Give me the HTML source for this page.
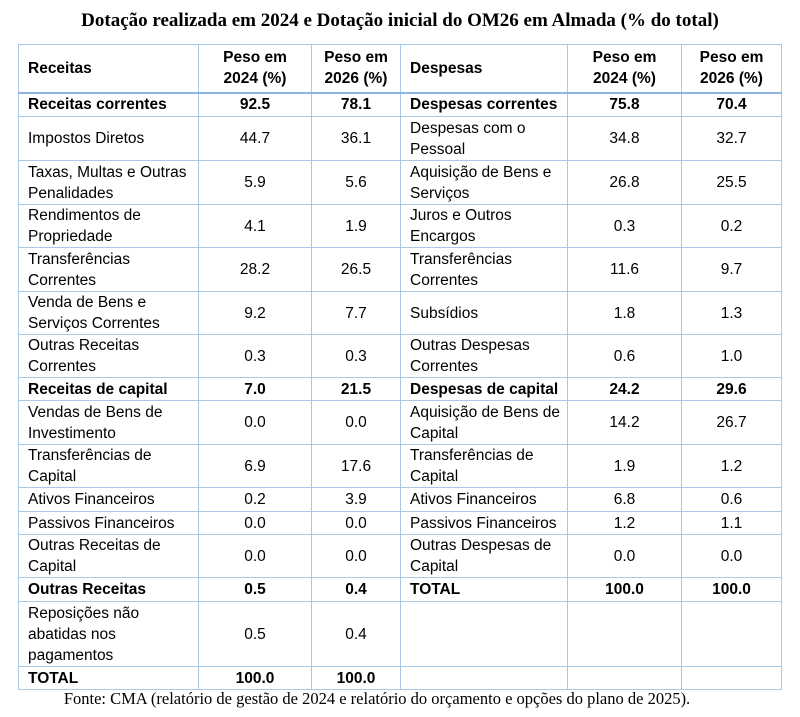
<!DOCTYPE html>
<html><head><meta charset="utf-8"><style>
body{margin:0;background:#fff;width:800px;height:717px;overflow:hidden;position:relative;font-family:"Liberation Sans",sans-serif;}
.title{position:absolute;top:10px;left:0;width:800px;text-align:center;font-family:"Liberation Serif",serif;font-weight:bold;font-size:19px;color:#000;}
table{position:absolute;left:18px;top:44px;border-collapse:collapse;table-layout:fixed;font-size:15.5px;color:#000;}
td{border:1px solid #a9c9ea;padding:0 0 0 9px;white-space:nowrap;line-height:21px;vertical-align:middle;overflow:hidden;}
td.n{text-align:center;padding:0;}
tr.h td{border-bottom:2px solid #8db4e2;font-weight:bold;}
tr.b td{font-weight:bold;}
.foot{position:absolute;top:689px;left:-23px;width:800px;text-align:center;font-family:"Liberation Serif",serif;font-size:16.5px;white-space:nowrap;}
</style></head><body>
<div class="title">Dotação realizada em 2024 e Dotação inicial do OM26 em Almada (% do total)</div>
<table>
<colgroup><col style="width:180px"><col style="width:113px"><col style="width:89px"><col style="width:167px"><col style="width:114px"><col style="width:100px"></colgroup>
<tr class="h" style="height:48px"><td>Receitas</td><td class="n">Peso em<br>2024 (%)</td><td class="n">Peso em<br>2026 (%)</td><td>Despesas</td><td class="n">Peso em<br>2024 (%)</td><td class="n">Peso em<br>2026 (%)</td></tr>
<tr class="b" style="height:24px"><td>Receitas correntes</td><td class="n">92.5</td><td class="n">78.1</td><td>Despesas correntes</td><td class="n">75.8</td><td class="n">70.4</td></tr>
<tr style="height:44px"><td>Impostos Diretos</td><td class="n">44.7</td><td class="n">36.1</td><td>Despesas com o<br>Pessoal</td><td class="n">34.8</td><td class="n">32.7</td></tr>
<tr style="height:44px"><td>Taxas, Multas e Outras<br>Penalidades</td><td class="n">5.9</td><td class="n">5.6</td><td>Aquisição de Bens e<br>Serviços</td><td class="n">26.8</td><td class="n">25.5</td></tr>
<tr style="height:43px"><td>Rendimentos de<br>Propriedade</td><td class="n">4.1</td><td class="n">1.9</td><td>Juros e Outros<br>Encargos</td><td class="n">0.3</td><td class="n">0.2</td></tr>
<tr style="height:44px"><td>Transferências<br>Correntes</td><td class="n">28.2</td><td class="n">26.5</td><td>Transferências<br>Correntes</td><td class="n">11.6</td><td class="n">9.7</td></tr>
<tr style="height:43px"><td>Venda de Bens e<br>Serviços Correntes</td><td class="n">9.2</td><td class="n">7.7</td><td>Subsídios</td><td class="n">1.8</td><td class="n">1.3</td></tr>
<tr style="height:43px"><td>Outras Receitas<br>Correntes</td><td class="n">0.3</td><td class="n">0.3</td><td>Outras Despesas<br>Correntes</td><td class="n">0.6</td><td class="n">1.0</td></tr>
<tr class="b" style="height:23px"><td>Receitas de capital</td><td class="n">7.0</td><td class="n">21.5</td><td>Despesas de capital</td><td class="n">24.2</td><td class="n">29.6</td></tr>
<tr style="height:44px"><td>Vendas de Bens de<br>Investimento</td><td class="n">0.0</td><td class="n">0.0</td><td>Aquisição de Bens de<br>Capital</td><td class="n">14.2</td><td class="n">26.7</td></tr>
<tr style="height:43px"><td>Transferências de<br>Capital</td><td class="n">6.9</td><td class="n">17.6</td><td>Transferências de<br>Capital</td><td class="n">1.9</td><td class="n">1.2</td></tr>
<tr style="height:24px"><td>Ativos Financeiros</td><td class="n">0.2</td><td class="n">3.9</td><td>Ativos Financeiros</td><td class="n">6.8</td><td class="n">0.6</td></tr>
<tr style="height:23px"><td>Passivos Financeiros</td><td class="n">0.0</td><td class="n">0.0</td><td>Passivos Financeiros</td><td class="n">1.2</td><td class="n">1.1</td></tr>
<tr style="height:43px"><td>Outras Receitas de<br>Capital</td><td class="n">0.0</td><td class="n">0.0</td><td>Outras Despesas de<br>Capital</td><td class="n">0.0</td><td class="n">0.0</td></tr>
<tr class="b" style="height:24px"><td>Outras Receitas</td><td class="n">0.5</td><td class="n">0.4</td><td>TOTAL</td><td class="n">100.0</td><td class="n">100.0</td></tr>
<tr style="height:65px"><td>Reposições não<br>abatidas nos<br>pagamentos</td><td class="n">0.5</td><td class="n">0.4</td><td></td><td></td><td></td></tr>
<tr class="b" style="height:23px"><td>TOTAL</td><td class="n">100.0</td><td class="n">100.0</td><td></td><td></td><td></td></tr>
</table>
<div class="foot">Fonte: CMA (relatório de gestão de 2024 e relatório do orçamento e opções do plano de 2025).</div>
</body></html>
